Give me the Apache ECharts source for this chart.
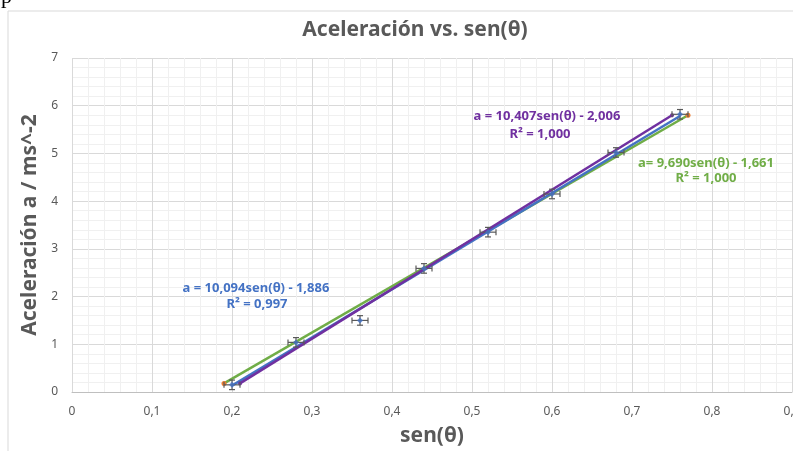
<!DOCTYPE html>
<html>
<head>
<meta charset="utf-8">
<script src="https://cdn.jsdelivr.net/npm/echarts@6/dist/echarts.min.js"></script>
<style>html,body{margin:0;padding:0;background:#fff}#c{width:793px;height:451px}</style>
</head>
<body>
<div id="c"></div>
<script>
// Measured data (sen θ, acceleration)
const senTheta = [0.20, 0.28, 0.36, 0.44, 0.52, 0.60, 0.68, 0.76];
const accel    = [0.15, 1.04, 1.50, 2.59, 3.35, 4.15, 5.02, 5.82];
const xErr = 0.01;
const yErr = 0.10;
// Best fit: a = 10,094 sen(θ) - 1,886
const fitSlope = 10.094, fitIntercept = -1.886;
// Max-slope line endpoints (purple)
const maxLineX = [0.21, 0.75];
const maxLineY = [0.18, 5.80];
// Min-slope line endpoints (green, orange markers)
const minLineX = [0.19, 0.77];
const minLineY = [0.18, 5.80];
const xTicks = [0, 0.1, 0.2, 0.3, 0.4, 0.5, 0.6, 0.7, 0.8, 0.9];
const yTicks = [0, 1, 2, 3, 4, 5, 6, 7];

const fmt = v => String(Math.round(v * 10) / 10).replace('.', ',');
const pts = senTheta.map((x, i) => [x, accel[i]]);
const fitPts = [senTheta[0], senTheta[senTheta.length - 1]].map(x => [x, fitSlope * x + fitIntercept]);
const maxPts = maxLineX.map((x, i) => [x, maxLineY[i]]);
const minPts = minLineX.map((x, i) => [x, minLineY[i]]);

const chart = echarts.init(document.getElementById('c'));
const gray = '#595959';
chart.setOption({
  animation: false,
  backgroundColor: '#fff',
  title: {
    text: 'Aceleración vs. sen(θ)', left: 410, top: 15, textAlign: 'center',
    textStyle: { fontFamily: 'Noto Sans', fontWeight: 'bold', fontSize: 21, color: gray }
  },
  grid: { left: 72, right: 1, top: 58, bottom: 59, outerBoundsMode: 'none', containLabel: false },
  xAxis: {
    type: 'value', min: 0, max: 0.9, interval: 0.1,
    name: 'sen(θ)', nameLocation: 'middle', nameGap: 34,
    nameTextStyle: { fontFamily: 'Noto Sans', fontWeight: 'bold', fontSize: 21, color: gray },
    axisLine: { show: true, lineStyle: { color: '#bfbfbf', width: 1 } },
    axisTick: { show: false },
    axisLabel: { formatter: fmt, color: gray, fontFamily: 'Noto Sans', fontSize: 12, margin: 14, showMaxLabel: true },
    splitLine: { show: true, lineStyle: { color: '#d9d9d9', width: 1 } },
    minorTick: { show: false, splitNumber: 5 },
    minorSplitLine: { show: true, lineStyle: { color: '#f0f0f0', width: 1 } }
  },
  yAxis: {
    type: 'value', min: 0, max: 7, interval: 1,
    name: 'Aceleración a / ms^-2', nameLocation: 'middle', nameGap: 30, nameRotate: 90,
    nameTextStyle: { fontFamily: 'Noto Sans', fontWeight: 'bold', fontSize: 21, color: gray },
    axisLine: { show: false },
    axisTick: { show: false },
    axisLabel: { formatter: fmt, color: gray, fontFamily: 'Noto Sans', fontSize: 12, margin: 14 },
    splitLine: { show: true, lineStyle: { color: '#d9d9d9', width: 1 } },
    minorTick: { show: false, splitNumber: 5 },
    minorSplitLine: { show: true, lineStyle: { color: '#f0f0f0', width: 1 } }
  },
  series: [
    {
      type: 'line', data: minPts, z: 3,
      lineStyle: { color: '#70AD47', width: 2.5 },
      symbol: 'circle', symbolSize: 5, itemStyle: { color: '#ED7D31' }
    },
    {
      type: 'line', data: fitPts, z: 4, symbol: 'none',
      lineStyle: { color: '#4472C4', width: 2.5 }
    },
    {
      type: 'line', data: maxPts, z: 5,
      lineStyle: { color: '#7030A0', width: 2.5 },
      symbol: 'circle', symbolSize: 4, itemStyle: { color: '#7030A0' }
    },
    {
      type: 'custom', z: 6,
      data: pts,
      renderItem: function (params, api) {
        const x = api.value(0), y = api.value(1);
        const l = api.coord([x - xErr, y]), r = api.coord([x + xErr, y]);
        const t = api.coord([x, y + yErr]), b = api.coord([x, y - yErr]);
        const cap = 3;
        const st = { stroke: '#595959', lineWidth: 1.2 };
        return {
          type: 'group', children: [
            { type: 'line', shape: { x1: l[0], y1: l[1], x2: r[0], y2: r[1] }, style: st },
            { type: 'line', shape: { x1: l[0], y1: l[1] - cap, x2: l[0], y2: l[1] + cap }, style: st },
            { type: 'line', shape: { x1: r[0], y1: r[1] - cap, x2: r[0], y2: r[1] + cap }, style: st },
            { type: 'line', shape: { x1: t[0], y1: t[1], x2: b[0], y2: b[1] }, style: st },
            { type: 'line', shape: { x1: t[0] - cap, y1: t[1], x2: t[0] + cap, y2: t[1] }, style: st },
            { type: 'line', shape: { x1: b[0] - cap, y1: b[1], x2: b[0] + cap, y2: b[1] }, style: st }
          ]
        };
      }
    },
    {
      type: 'scatter', data: pts, z: 7, symbol: 'diamond', symbolSize: 6,
      itemStyle: { color: '#4472C4' }
    }
  ],
  graphic: [
    { type: 'rect', shape: { x: 8, y: 11, width: 800, height: 460 }, style: { fill: 'none', stroke: '#d9d9d9', lineWidth: 1 }, z: -1 },
    { type: 'text', left: 1, top: -14, style: { text: 'p', font: '22px "Liberation Serif"', fill: '#000' } },
    { type: 'text', x: 547, y: 116, style: { text: 'a = 10,407sen(θ) - 2,006', font: 'bold 13px "Noto Sans"', fill: '#7030A0', align: 'center', verticalAlign: 'middle' }, z: 10 },
    { type: 'text', x: 540, y: 134, style: { text: 'R² = 1,000', font: 'bold 13px "Noto Sans"', fill: '#7030A0', align: 'center', verticalAlign: 'middle' }, z: 10 },
    { type: 'text', x: 706, y: 163, style: { text: 'a= 9,690sen(θ) - 1,661', font: 'bold 13px "Noto Sans"', fill: '#70AD47', align: 'center', verticalAlign: 'middle' }, z: 10 },
    { type: 'text', x: 706, y: 178, style: { text: 'R² = 1,000', font: 'bold 13px "Noto Sans"', fill: '#70AD47', align: 'center', verticalAlign: 'middle' }, z: 10 },
    { type: 'text', x: 256, y: 288, style: { text: 'a = 10,094sen(θ) - 1,886', font: 'bold 13px "Noto Sans"', fill: '#4472C4', align: 'center', verticalAlign: 'middle' }, z: 10 },
    { type: 'text', x: 257, y: 304, style: { text: 'R² = 0,997', font: 'bold 13px "Noto Sans"', fill: '#4472C4', align: 'center', verticalAlign: 'middle' }, z: 10 }
  ]
});
</script>
</body>
</html>
